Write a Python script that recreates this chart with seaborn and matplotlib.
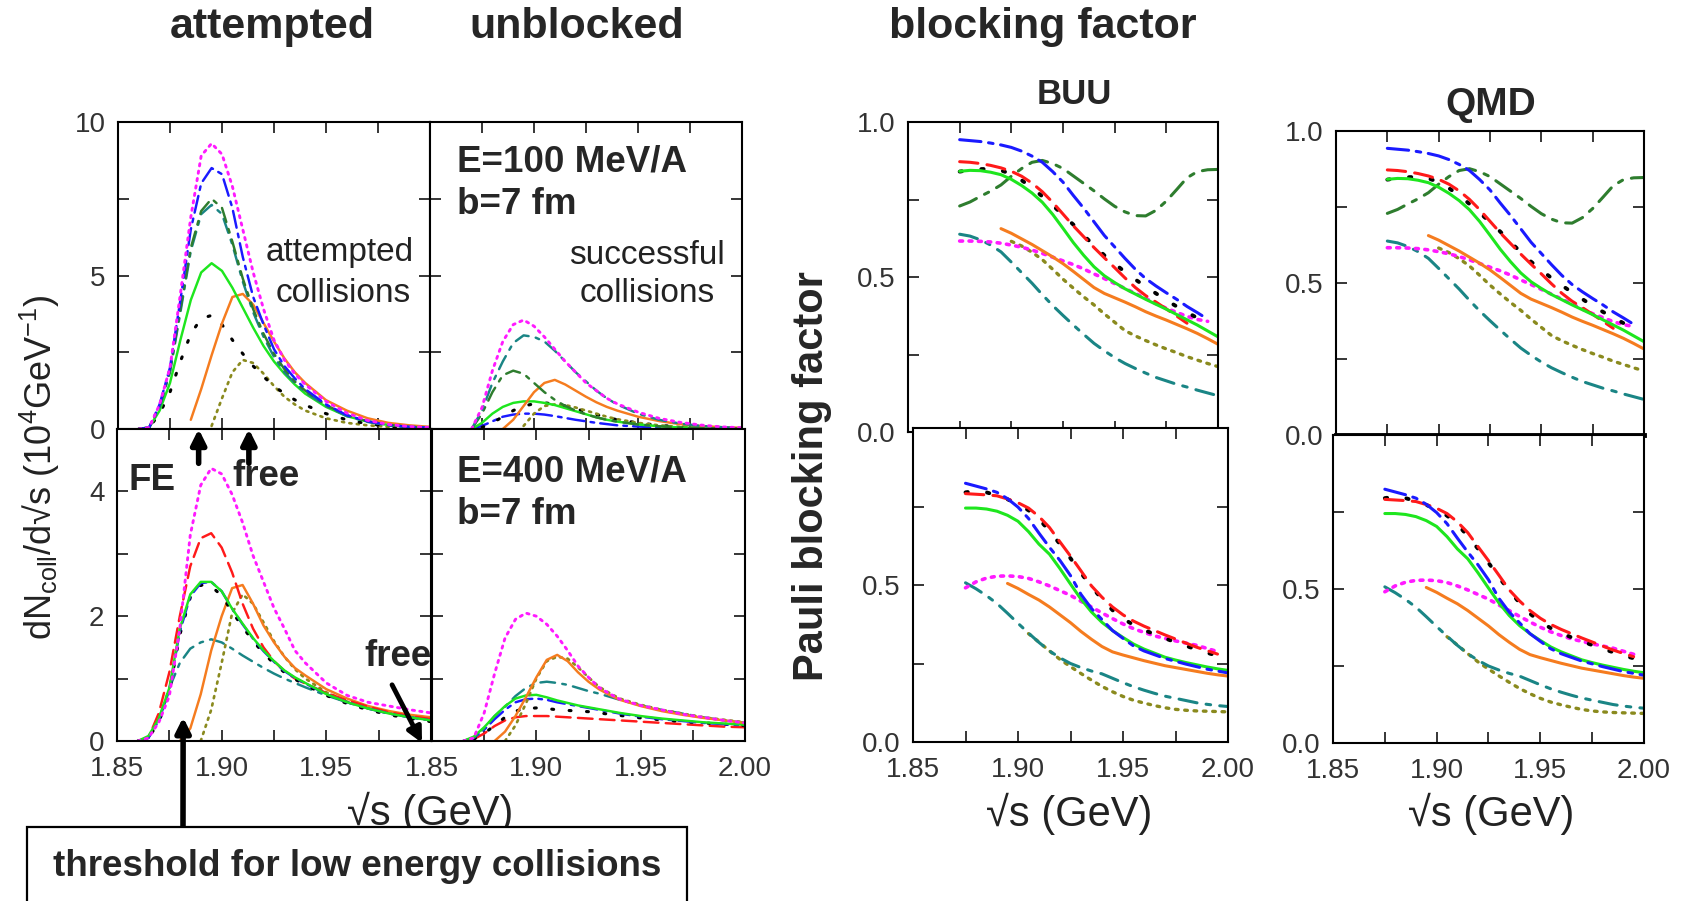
import numpy as np
import pandas as pd
import matplotlib
matplotlib.use("Agg")
import matplotlib.pyplot as plt
from matplotlib.patches import Rectangle
import seaborn as sns

nan = np.nan

# ---------------- data ----------------
# sqrt(s) grid (GeV) for the collision-number panels
X_N = [1.86, 1.865, 1.87, 1.875, 1.88, 1.885, 1.89, 1.895, 1.90, 1.905, 1.91, 1.915,
       1.92, 1.925, 1.93, 1.935, 1.94, 1.95, 1.96, 1.97, 1.98, 1.99, 2.00]

# E=100 MeV/A, attempted collisions (10^4 GeV^-1)
ATT100_MAGENTA = [0, 0.05, 0.8, 2.0, 4.4, 6.9, 8.9, 9.3, 8.95, 7.9, 6.5, 5.1, 3.9, 2.9, 2.25, 1.8, 1.45, 0.9, 0.52, 0.28, 0.15, 0.08, 0.05]
ATT100_BLUE = [0, 0.05, 0.8, 2.0, 4.2, 6.5, 8.0, 8.5, 8.3, 7.2, 5.6, 4.3, 3.4, 2.6, 2.05, 1.65, 1.3, 0.8, 0.45, 0.25, 0.13, 0.07, 0.04]
ATT100_DKGREEN = [0, 0.05, 0.75, 1.9, 3.9, 5.9, 7.1, 7.5, 7.2, 6.1, 4.9, 3.9, 3.1, 2.45, 1.95, 1.55, 1.25, 0.78, 0.45, 0.25, 0.13, 0.07, 0.04]
ATT100_TEAL = [0, 0.05, 0.7, 1.85, 3.8, 5.8, 7.0, 7.3, 7.0, 6.0, 4.8, 3.8, 3.0, 2.35, 1.85, 1.5, 1.2, 0.75, 0.42, 0.23, 0.12, 0.06, 0.03]
ATT100_GREEN = [0, 0.05, 0.6, 1.5, 2.9, 4.2, 5.1, 5.4, 5.15, 4.6, 3.95, 3.3, 2.7, 2.2, 1.8, 1.45, 1.15, 0.72, 0.42, 0.24, 0.13, 0.07, 0.04]
ATT100_ORANGE = [nan, nan, nan, nan, nan, 0.3, 1.3, 2.4, 3.44, 4.3, 4.4, 4.05, 3.45, 2.85, 2.3, 1.85, 1.5, 0.94, 0.6, 0.35, 0.2, 0.12, 0.07]
ATT100_BLACK = [0, 0.05, 0.5, 1.2, 2.2, 3.1, 3.6, 3.7, 3.4, 2.9, 2.45, 2.05, 1.7, 1.4, 1.15, 0.95, 0.78, 0.5, 0.3, 0.17, 0.09, 0.05, 0.03]
ATT100_OLIVE = [nan, nan, nan, nan, nan, nan, nan, 0.1, 1.0, 1.85, 2.25, 2.15, 1.8, 1.4, 1.05, 0.8, 0.6, 0.35, 0.2, 0.12, 0.07, 0.04, 0.02]

# E=100 MeV/A, unblocked (successful) collisions
UNB100_MAGENTA = [nan, nan, 0, 0.7, 1.9, 2.85, 3.4, 3.55, 3.35, 3.0, 2.6, 2.2, 1.85, 1.5, 1.25, 1.0, 0.82, 0.55, 0.35, 0.22, 0.13, 0.07, 0.04]
UNB100_TEAL = [nan, nan, 0, 0.6, 1.5, 2.2, 2.8, 3.05, 3.0, 2.85, 2.55, 2.2, 1.85, 1.55, 1.25, 1.0, 0.8, 0.5, 0.3, 0.18, 0.1, 0.06, 0.03]
UNB100_DKGREEN = [nan, nan, 0, 0.5, 1.2, 1.75, 1.9, 1.8, 1.5, 1.2, 0.95, 0.75, 0.6, 0.48, 0.38, 0.3, 0.24, 0.15, 0.09, 0.05, 0.03, 0.02, 0.01]
UNB100_ORANGE = [nan, nan, nan, nan, nan, 0, 0.3, 0.75, 1.2, 1.5, 1.6, 1.45, 1.25, 1.05, 0.87, 0.72, 0.6, 0.4, 0.26, 0.16, 0.1, 0.06, 0.04]
UNB100_GREEN = [nan, nan, 0, 0.2, 0.5, 0.72, 0.85, 0.9, 0.9, 0.85, 0.78, 0.68, 0.58, 0.48, 0.38, 0.3, 0.24, 0.15, 0.09, 0.05, 0.03, 0.02, 0.01]
UNB100_BLACK = [nan, nan, nan, 0.05, 0.2, 0.4, 0.6, 0.75, 0.82, 0.85, 0.82, 0.75, 0.66, 0.56, 0.47, 0.38, 0.3, 0.2, 0.12, 0.07, 0.04, 0.02, 0.01]
UNB100_BLUE = [nan, nan, 0, 0.1, 0.25, 0.4, 0.47, 0.5, 0.5, 0.47, 0.42, 0.36, 0.3, 0.25, 0.2, 0.16, 0.12, 0.08, 0.05, 0.03, 0.02, 0.01, 0.0]
UNB100_OLIVE = [nan, nan, nan, nan, nan, nan, nan, 0.1, 0.5, 0.75, 0.8, 0.78, 0.7, 0.6, 0.5, 0.4, 0.32, 0.2, 0.12, 0.07, 0.04, 0.02, 0.01]

# E=400 MeV/A, attempted collisions
ATT400_MAGENTA = [0, 0.05, 0.3, 0.72, 1.8, 3.3, 4.1, 4.37, 4.28, 3.95, 3.5, 2.97, 2.55, 2.13, 1.8, 1.45, 1.25, 0.93, 0.73, 0.62, 0.56, 0.5, 0.45]
ATT400_RED = [0, 0.05, 0.45, 1.1, 2.0, 2.8, 3.25, 3.33, 3.1, 2.7, 2.2, 1.8, 1.5, 1.28, 1.12, 1.0, 0.92, 0.77, 0.65, 0.55, 0.46, 0.4, 0.35]
ATT400_BLUE = [0, 0.05, 0.33, 0.82, 1.75, 2.32, 2.53, 2.55, 2.4, 2.12, 1.87, 1.64, 1.44, 1.27, 1.12, 1.01, 0.92, 0.75, 0.62, 0.52, 0.44, 0.38, 0.33]
ATT400_GREEN = [0, 0.08, 0.36, 0.85, 1.8, 2.35, 2.55, 2.55, 2.4, 2.12, 1.88, 1.65, 1.45, 1.28, 1.13, 1.02, 0.93, 0.75, 0.62, 0.52, 0.44, 0.38, 0.33]
ATT400_BLACK = [0, 0.05, 0.3, 0.8, 1.7, 2.3, 2.5, 2.48, 2.33, 2.07, 1.83, 1.6, 1.41, 1.24, 1.1, 0.99, 0.9, 0.73, 0.6, 0.5, 0.42, 0.36, 0.31]
ATT400_ORANGE = [nan, nan, nan, nan, 0.0, 0.2, 0.75, 1.45, 2.0, 2.45, 2.5, 2.2, 1.85, 1.58, 1.35, 1.17, 1.05, 0.83, 0.68, 0.56, 0.48, 0.42, 0.38]
ATT400_OLIVE = [nan, nan, nan, nan, nan, nan, 0.0, 0.5, 1.25, 2.05, 2.35, 2.2, 1.9, 1.6, 1.35, 1.15, 1.0, 0.78, 0.63, 0.52, 0.45, 0.39, 0.34]
ATT400_TEAL = [0, 0.05, 0.35, 0.85, 1.25, 1.48, 1.58, 1.63, 1.58, 1.48, 1.37, 1.27, 1.17, 1.08, 1.0, 0.93, 0.86, 0.73, 0.62, 0.52, 0.44, 0.38, 0.33]

# E=400 MeV/A, unblocked collisions
UNB400_MAGENTA = [nan, 0, 0.05, 0.45, 1.08, 1.65, 1.95, 2.05, 2.0, 1.87, 1.68, 1.45, 1.2, 1.02, 0.86, 0.76, 0.67, 0.57, 0.5, 0.43, 0.38, 0.33, 0.29]
UNB400_ORANGE = [nan, nan, nan, nan, 0, 0.15, 0.4, 0.7, 1.02, 1.3, 1.38, 1.28, 1.1, 0.95, 0.83, 0.74, 0.66, 0.56, 0.48, 0.42, 0.37, 0.33, 0.29]
UNB400_OLIVE = [nan, nan, nan, nan, nan, 0.0, 0.25, 0.6, 1.0, 1.28, 1.35, 1.32, 1.18, 1.02, 0.87, 0.77, 0.68, 0.58, 0.5, 0.44, 0.38, 0.34, 0.30]
UNB400_TEAL = [nan, 0, 0.05, 0.2, 0.4, 0.55, 0.72, 0.85, 0.93, 0.95, 0.93, 0.9, 0.85, 0.8, 0.76, 0.71, 0.66, 0.57, 0.5, 0.44, 0.38, 0.33, 0.29]
UNB400_GREEN = [nan, 0, 0.07, 0.22, 0.4, 0.56, 0.68, 0.73, 0.74, 0.7, 0.65, 0.61, 0.57, 0.54, 0.51, 0.48, 0.45, 0.4, 0.36, 0.33, 0.3, 0.28, 0.26]
UNB400_BLUE = [nan, 0, 0.05, 0.18, 0.35, 0.5, 0.62, 0.67, 0.68, 0.66, 0.62, 0.59, 0.56, 0.53, 0.5, 0.47, 0.44, 0.39, 0.35, 0.32, 0.29, 0.27, 0.25]
UNB400_BLACK = [nan, nan, 0.03, 0.12, 0.25, 0.38, 0.48, 0.52, 0.53, 0.52, 0.5, 0.49, 0.48, 0.47, 0.45, 0.43, 0.41, 0.37, 0.34, 0.31, 0.29, 0.27, 0.25]
UNB400_RED = [nan, nan, 0.03, 0.12, 0.24, 0.33, 0.38, 0.4, 0.4, 0.4, 0.39, 0.38, 0.37, 0.36, 0.35, 0.34, 0.33, 0.31, 0.29, 0.27, 0.25, 0.23, 0.22]

# sqrt(s) grid for the Pauli blocking factor panels
X_B = [1.875, 1.88, 1.885, 1.89, 1.895, 1.90, 1.905, 1.91, 1.915, 1.92, 1.925, 1.93, 1.935,
       1.94, 1.945, 1.95, 1.955, 1.96, 1.965, 1.97, 1.975, 1.98, 1.985, 1.99, 1.995, 2.00]

# blocking factor, E=100 MeV/A
BF100_BLUE = [0.943, 0.94, 0.937, 0.932, 0.926, 0.918, 0.906, 0.89, 0.87, 0.84, 0.806, 0.763, 0.722, 0.678, 0.634, 0.597, 0.56, 0.525, 0.495, 0.471, 0.449, 0.428, 0.405, 0.385, 0.364, nan]
BF100_RED = [0.872, 0.87, 0.866, 0.86, 0.852, 0.841, 0.825, 0.803, 0.775, 0.741, 0.703, 0.665, 0.63, 0.595, 0.562, 0.53, 0.497, 0.466, 0.44, 0.419, 0.397, 0.374, 0.351, nan, nan, nan]
BF100_BLACK = [0.84, 0.845, 0.848, 0.849, 0.844, 0.832, 0.812, 0.788, 0.76, 0.731, 0.7, 0.669, 0.634, 0.602, 0.57, 0.543, 0.516, 0.492, 0.469, 0.447, 0.425, 0.405, 0.386, 0.368, 0.355, nan]
BF100_GREEN = [0.841, 0.844, 0.843, 0.838, 0.83, 0.815, 0.795, 0.771, 0.741, 0.702, 0.657, 0.611, 0.57, 0.533, 0.504, 0.482, 0.462, 0.445, 0.428, 0.412, 0.396, 0.379, 0.362, 0.345, 0.326, 0.307]
BF100_DKGREEN = [0.729, 0.742, 0.76, 0.777, 0.797, 0.825, 0.85, 0.87, 0.876, 0.866, 0.85, 0.826, 0.802, 0.778, 0.752, 0.728, 0.71, 0.698, 0.697, 0.715, 0.745, 0.782, 0.82, 0.84, 0.846, 0.847]
BF100_MAGENTA = [0.616, 0.616, 0.615, 0.613, 0.609, 0.603, 0.596, 0.587, 0.576, 0.564, 0.552, 0.54, 0.526, 0.51, 0.495, 0.479, 0.463, 0.447, 0.431, 0.414, 0.399, 0.386, 0.373, 0.363, 0.357, nan]
BF100_ORANGE = [nan, nan, nan, nan, 0.656, 0.641, 0.623, 0.605, 0.585, 0.565, 0.543, 0.518, 0.492, 0.466, 0.447, 0.433, 0.419, 0.404, 0.388, 0.374, 0.361, 0.347, 0.333, 0.318, 0.301, 0.283]
BF100_OLIVE = [nan, nan, nan, nan, nan, 0.615, 0.6, 0.58, 0.556, 0.525, 0.493, 0.464, 0.436, 0.41, 0.381, 0.354, 0.327, 0.31, 0.295, 0.281, 0.268, 0.256, 0.243, 0.232, 0.221, 0.211]
BF100_TEAL = [0.638, 0.632, 0.62, 0.603, 0.581, 0.548, 0.514, 0.48, 0.443, 0.408, 0.376, 0.345, 0.315, 0.286, 0.262, 0.24, 0.221, 0.205, 0.19, 0.176, 0.165, 0.154, 0.145, 0.135, 0.126, 0.117]

# blocking factor, E=400 MeV/A
BF400_BLUE = [0.824, 0.815, 0.806, 0.795, 0.775, 0.748, 0.712, 0.665, 0.62, 0.578, 0.53, 0.47, 0.425, 0.39, 0.355, 0.33, 0.306, 0.29, 0.278, 0.266, 0.257, 0.248, 0.24, 0.232, 0.226, 0.22]
BF400_RED = [0.791, 0.789, 0.787, 0.784, 0.774, 0.762, 0.745, 0.718, 0.683, 0.637, 0.592, 0.545, 0.497, 0.461, 0.43, 0.405, 0.385, 0.369, 0.355, 0.341, 0.328, 0.315, 0.302, 0.291, 0.28, nan]
BF400_BLACK = [0.795, 0.8, 0.795, 0.785, 0.773, 0.758, 0.738, 0.71, 0.672, 0.63, 0.585, 0.538, 0.495, 0.455, 0.42, 0.393, 0.373, 0.357, 0.343, 0.33, 0.318, 0.306, 0.295, 0.284, 0.275, nan]
BF400_GREEN = [0.745, 0.745, 0.742, 0.735, 0.722, 0.703, 0.67, 0.63, 0.598, 0.552, 0.503, 0.455, 0.414, 0.381, 0.355, 0.333, 0.312, 0.296, 0.283, 0.27, 0.261, 0.253, 0.246, 0.239, 0.233, 0.228]
BF400_MAGENTA = [0.491, 0.51, 0.522, 0.528, 0.529, 0.527, 0.521, 0.51, 0.497, 0.482, 0.467, 0.448, 0.43, 0.411, 0.393, 0.376, 0.361, 0.349, 0.338, 0.33, 0.322, 0.315, 0.308, 0.298, 0.288, nan]
BF400_ORANGE = [nan, nan, nan, nan, 0.505, 0.489, 0.47, 0.452, 0.43, 0.405, 0.38, 0.352, 0.327, 0.304, 0.287, 0.277, 0.268, 0.259, 0.251, 0.243, 0.237, 0.231, 0.225, 0.219, 0.214, 0.21]
BF400_OLIVE = [nan, nan, nan, nan, nan, nan, 0.345, 0.318, 0.29, 0.263, 0.24, 0.218, 0.197, 0.177, 0.16, 0.145, 0.133, 0.124, 0.116, 0.109, 0.104, 0.101, 0.099, 0.098, 0.097, 0.096]
BF400_TEAL = [0.507, 0.488, 0.466, 0.441, 0.41, 0.378, 0.347, 0.317, 0.29, 0.268, 0.25, 0.237, 0.226, 0.217, 0.203, 0.189, 0.176, 0.165, 0.155, 0.146, 0.139, 0.132, 0.125, 0.12, 0.116, 0.113]

X_TICKS = [1.85, 1.875, 1.90, 1.925, 1.95, 1.975, 2.00]
X_LABELS_FULL = ["1.85", "", "1.90", "", "1.95", "", "2.00"]
X_LABELS_LEFT = ["1.85", "", "1.90", "", "1.95", "", ""]

# ---------------- styles ----------------
STYLE = {
    "blue": dict(color="#1a1aff", ls=(0, (7, 2.5, 1.5, 2.5)), lw=2.2),
    "red": dict(color="#ff1a1a", ls=(0, (6, 3)), lw=2.2),
    "black": dict(color="black", ls=(0, (0.6, 5)), lw=2.8),
    "green": dict(color="#1ee61e", ls="-", lw=2.2),
    "dkgreen": dict(color="#2e7d2e", ls=(0, (6, 3, 1.5, 3)), lw=2.2),
    "magenta": dict(color="#ff1aff", ls=(0, (0.8, 1.8)), lw=2.6),
    "orange": dict(color="#f57c1f", ls="-", lw=2.2),
    "olive": dict(color="#8a8a1e", ls=(0, (0.8, 2)), lw=2.4),
    "teal": dict(color="#1a8585", ls=(0, (6, 3, 1.5, 3)), lw=2.2),
}

sns.set_style("ticks")
plt.rcParams["font.family"] = ["Liberation Sans", "DejaVu Sans"]
plt.rcParams["mathtext.fontset"] = "custom"
plt.rcParams["mathtext.rm"] = "Liberation Sans"
plt.rcParams["mathtext.it"] = "Liberation Sans:italic"
plt.rcParams["mathtext.bf"] = "Liberation Sans:bold"

W, H = 1684, 901
fig = plt.figure(figsize=(W / 100, H / 100), dpi=100)
fig.patch.set_facecolor("white")


def fx(x):
    return x / W


def fy(y):
    return 1 - y / H


def add_ax(x0, y0, x1, y1):
    return fig.add_axes([fx(x0), fy(y1), (x1 - x0) / W, (y1 - y0) / H])


def draw(ax, x, series, lw_scale=1.0):
    for name, y in series:
        st = STYLE[name]
        df = pd.DataFrame({"x": x, "y": y}).dropna()
        sns.lineplot(data=df, x="x", y="y", ax=ax, color=st["color"],
                     linestyle=st["ls"], linewidth=st["lw"] * lw_scale, estimator=None,
                     sort=False, legend=False, dash_capstyle="round")
    ax.set_xlabel("")
    ax.set_ylabel("")


def setup(ax, ylim, yticks, ylabels, xlabels):
    ax.set_xlim(1.85, 2.00)
    ax.set_ylim(*ylim)
    ax.set_xticks(X_TICKS)
    ax.set_yticks(yticks)
    if xlabels is None:
        ax.set_xticklabels([""] * len(X_TICKS))
    else:
        ax.set_xticklabels(xlabels)
    if ylabels is None:
        ax.set_yticklabels([""] * len(yticks))
    else:
        ax.set_yticklabels(ylabels)
    ax.tick_params(direction="in", length=8, width=1.3, top=True, right=True,
                   labelsize=20, labelcolor="#333333")
    ax.tick_params(axis="x", pad=11)
    ax.tick_params(axis="y", pad=9)
    for sp in ax.spines.values():
        sp.set_linewidth(1.5)
        sp.set_color("black")
    ax.set_facecolor("white")


# ---------------- collision number panels ----------------
LWN = 0.8
ax1 = add_ax(118, 122, 430, 429)
draw(ax1, X_N, [("olive", ATT100_OLIVE), ("black", ATT100_BLACK), ("orange", ATT100_ORANGE),
                ("green", ATT100_GREEN), ("teal", ATT100_TEAL), ("dkgreen", ATT100_DKGREEN),
                ("blue", ATT100_BLUE), ("magenta", ATT100_MAGENTA)], LWN)
setup(ax1, (0, 10), [0, 2.5, 5, 7.5, 10], ["0", "", "5", "", "10"], None)

ax2 = add_ax(430, 122, 742, 429)
draw(ax2, X_N, [("blue", UNB100_BLUE), ("black", UNB100_BLACK), ("olive", UNB100_OLIVE),
                ("green", UNB100_GREEN), ("orange", UNB100_ORANGE), ("dkgreen", UNB100_DKGREEN),
                ("teal", UNB100_TEAL), ("magenta", UNB100_MAGENTA)], LWN)
setup(ax2, (0, 10), [0, 2.5, 5, 7.5, 10], None, None)

ax3 = add_ax(117, 429, 431, 741)
draw(ax3, X_N, [("teal", ATT400_TEAL), ("olive", ATT400_OLIVE), ("orange", ATT400_ORANGE),
                ("red", ATT400_RED), ("black", ATT400_BLACK), ("blue", ATT400_BLUE),
                ("green", ATT400_GREEN), ("magenta", ATT400_MAGENTA)], LWN)
setup(ax3, (0, 5), [0, 1, 2, 3, 4, 5], ["0", "", "2", "", "4", ""], X_LABELS_LEFT)

ax4 = add_ax(432, 429, 745, 741)
draw(ax4, X_N, [("red", UNB400_RED), ("black", UNB400_BLACK), ("blue", UNB400_BLUE),
                ("teal", UNB400_TEAL), ("green", UNB400_GREEN), ("olive", UNB400_OLIVE),
                ("orange", UNB400_ORANGE), ("magenta", UNB400_MAGENTA)], LWN)
setup(ax4, (0, 5), [0, 1, 2, 3, 4, 5], None, X_LABELS_FULL)

# ---------------- blocking factor panels ----------------
TOP_SERIES = [("teal", BF100_TEAL), ("olive", BF100_OLIVE), ("magenta", BF100_MAGENTA),
              ("orange", BF100_ORANGE), ("dkgreen", BF100_DKGREEN), ("black", BF100_BLACK),
              ("red", BF100_RED), ("green", BF100_GREEN), ("blue", BF100_BLUE)]
BOT_SERIES = [("olive", BF400_OLIVE), ("teal", BF400_TEAL), ("orange", BF400_ORANGE),
              ("magenta", BF400_MAGENTA), ("black", BF400_BLACK), ("red", BF400_RED),
              ("green", BF400_GREEN), ("blue", BF400_BLUE)]

for (top_box, bot_box) in [((908, 122, 1218, 432), (913, 428, 1228, 742)),
                           ((1336, 131, 1644, 435), (1333, 435, 1644, 743))]:
    axt = add_ax(*top_box)
    draw(axt, X_B, TOP_SERIES)
    setup(axt, (0, 1.0), [0, 0.25, 0.5, 0.75, 1.0], ["0.0", "", "0.5", "", "1.0"], None)
    axb = add_ax(*bot_box)
    draw(axb, X_B, BOT_SERIES)
    setup(axb, (0, 1.0), [0, 0.25, 0.5, 0.75, 1.0], ["0.0", "", "0.5", "", ""], X_LABELS_FULL)
    if top_box[0] > 1300:
        axt.spines["bottom"].set_linewidth(3.5)
        axt.spines["bottom"].set_zorder(10)

# ---------------- texts ----------------
def ftext(x, y, s, **kw):
    fig.text(fx(x), fy(y), s, **kw)

ftext(272, 27, "attempted", fontsize=31, fontweight="bold", ha="center", va="center")
ftext(577, 27, "unblocked", fontsize=31, fontweight="bold", ha="center", va="center")
ftext(1043, 27, "blocking factor", fontsize=31, fontweight="bold", ha="center", va="center")
ftext(1074, 95, "BUU", fontsize=25, fontweight="bold", ha="center", va="center")
ftext(1491, 105, "QMD", fontsize=28, fontweight="bold", ha="center", va="center")

ftext(340, 253, "attempted", fontsize=24, ha="center", va="center", color="#222222")
ftext(343, 293, "collisions", fontsize=24, ha="center", va="center", color="#222222")
ftext(647, 255, "successful", fontsize=24, ha="center", va="center", color="#222222")
ftext(647, 293, "collisions", fontsize=24, ha="center", va="center", color="#222222")

BOLD = dict(fontsize=26.5, fontweight="bold", va="center")
ftext(457, 162, "E=100 MeV/A", ha="left", **BOLD)
ftext(457, 205, "b=7 fm", ha="left", **BOLD)
ftext(457, 472, "E=400 MeV/A", ha="left", **BOLD)
ftext(457, 515, "b=7 fm", ha="left", **BOLD)

ftext(152, 480, "FE", ha="center", **BOLD)
ftext(266, 477, "free", ha="center", **BOLD)
ftext(398, 657, "free", ha="center", **BOLD)

ftext(40, 467, r"dN$_{\mathrm{coll}}$/d√s (10$^{4}$GeV$^{-1}$)", fontsize=26,
      rotation=90, ha="center", va="center", color="#222222")
ftext(812, 476, "Pauli blocking factor", fontsize=30, fontweight="bold",
      rotation=90, ha="center", va="center")

ftext(430, 813, "√s (GeV)", fontsize=30, ha="center", va="center", color="#222222")
ftext(1069, 814, "√s (GeV)", fontsize=30, ha="center", va="center", color="#222222")
ftext(1491, 814, "√s (GeV)", fontsize=30, ha="center", va="center", color="#222222")

# arrows
arrow_kw = dict(arrowstyle="-|>", lw=4, color="black", mutation_scale=22,
                shrinkA=0, shrinkB=0)
for xa in (1.889, 1.913):
    ax3.annotate("", xy=(xa, 5.0), xytext=(xa, 4.45), xycoords="data",
                 textcoords="data", arrowprops=arrow_kw, annotation_clip=False, zorder=20)
ax3.annotate("", xy=(1.9957, -0.03), xytext=(1.9814, 0.9), arrowprops=dict(arrow_kw, lw=3.5),
             annotation_clip=False, zorder=20)
fig.add_artist(Rectangle((fx(27), fy(905)), 660 / W, 78 / H, transform=fig.transFigure,
                         facecolor="white", edgecolor="black", lw=1.6, zorder=5))
ftext(357, 866, "threshold for low energy collisions", fontsize=26.5, fontweight="bold",
      ha="center", va="center", zorder=6)
ax3.annotate("", xy=(1.8816, 0.38), xytext=(fx(183), fy(827)), xycoords="data",
             textcoords="figure fraction", arrowprops=arrow_kw, annotation_clip=False, zorder=20)

fig.savefig("out.png", dpi=100, facecolor="white")
